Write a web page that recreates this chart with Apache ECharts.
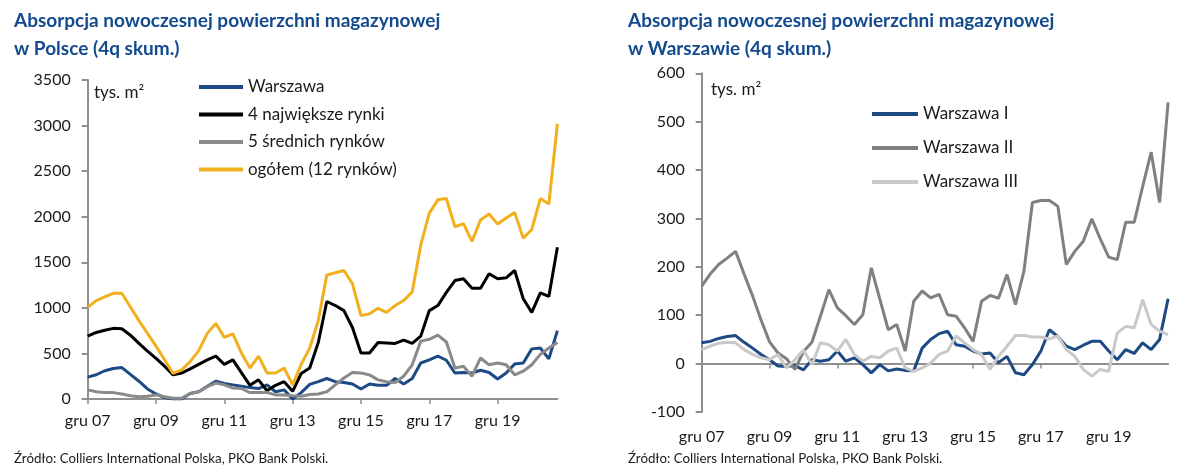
<!DOCTYPE html>
<html>
<head>
<meta charset="utf-8">
<script src="https://cdn.jsdelivr.net/npm/echarts@6/dist/echarts.min.js"></script>
<style>
html,body{margin:0;padding:0;background:#fff;}
#chart{width:1200px;height:476px;}
</style>
</head>
<body>
<div id="chart"></div>
<script>
// ---- Data ----
const categories = [
  "gru 07",
  "mar 08","cze 08","wrz 08","gru 08",
  "mar 09","cze 09","wrz 09","gru 09",
  "mar 10","cze 10","wrz 10","gru 10",
  "mar 11","cze 11","wrz 11","gru 11",
  "mar 12","cze 12","wrz 12","gru 12",
  "mar 13","cze 13","wrz 13","gru 13",
  "mar 14","cze 14","wrz 14","gru 14",
  "mar 15","cze 15","wrz 15","gru 15",
  "mar 16","cze 16","wrz 16","gru 16",
  "mar 17","cze 17","wrz 17","gru 17",
  "mar 18","cze 18","wrz 18","gru 18",
  "mar 19","cze 19","wrz 19","gru 19",
  "mar 20","cze 20","wrz 20","gru 20",
  "mar 21","cze 21","wrz 21"
];

// Left chart (tys. m2)
const warszawa = [240,266,310,335,345,270,195,110,55,15,0,0,60,80,140,195,170,155,140,125,115,155,80,100,0,70,160,190,225,190,180,165,110,165,150,150,225,165,225,395,430,470,425,285,290,285,315,290,220,285,385,395,550,560,440,750];
const top4 = [690,730,755,775,770,700,610,525,445,360,265,285,330,380,430,470,380,430,290,150,210,90,150,190,85,280,340,620,1070,1025,970,785,505,505,620,615,610,645,610,690,970,1025,1170,1300,1320,1215,1215,1375,1320,1330,1410,1100,950,1165,1125,1665];
const mid5 = [100,80,70,70,55,35,25,30,45,25,8,8,60,80,135,175,155,120,115,70,70,70,45,45,35,30,50,55,80,155,230,290,285,265,210,190,180,250,375,635,655,700,625,340,360,250,450,375,395,375,265,305,375,490,560,620];
const total12 = [1005,1080,1120,1160,1160,1010,860,720,580,430,280,320,410,530,720,830,675,715,505,340,470,285,285,340,155,380,560,860,1360,1385,1410,1265,915,935,995,950,1025,1080,1175,1690,2040,2185,2200,1890,1925,1730,1965,2030,1920,1985,2045,1765,1860,2200,2140,3020];

// Right chart (tys. m2)
const wI = [43,46,52,56,58,44,32,19,8,-5,-6,-4,-13,8,5,8,26,5,12,-2,-19,-2,-15,-11,-14,-15,32,50,62,67,39,36,26,20,22,2,15,-19,-23,-2,26,70,56,36,29,38,46,46,26,8,29,21,43,29,50,134];
const wII = [160,185,205,218,232,185,140,90,45,22,10,-12,25,44,98,153,115,99,81,101,198,134,70,81,26,129,150,136,143,101,98,74,46,129,141,135,184,122,191,333,337,337,325,205,232,253,299,258,220,215,292,292,366,437,333,540];
const wIII = [29,36,42,44,43,29,19,12,8,19,-9,8,28,-2,43,39,26,50,19,5,15,12,26,32,-9,-16,-9,1,19,26,57,43,29,19,-12,15,36,58,58,55,55,51,57,29,15,-12,-26,-12,-16,63,77,74,132,81,67,60];

const leftTicks = {min: 0, max: 3500, interval: 500};
const rightTicks = {min: -100, max: 600, interval: 100};

const titleLeft = "Absorpcja nowoczesnej powierzchni magazynowej\nw Polsce (4q skum.)";
const titleRight = "Absorpcja nowoczesnej powierzchni magazynowej\nw Warszawie (4q skum.)";
const sourceText = "Źródło: Colliers International Polska, PKO Bank Polski.";
const unitText = "tys. m²";

// ---- Styles ----
const FONT = "Lato, 'Open Sans', sans-serif";
const TXT = '#1a1a1a';
const AXIS = '#8f8f8f';
const C_BLUE = '#1d4a85';
const C_BLACK = '#000000';
const C_GRAY = '#8a8a8a';
const C_YELLOW = '#f2b01e';
const C_GRAY2 = '#808080';
const C_LIGHT = '#c9c9c9';

const chart = echarts.init(document.getElementById('chart'), null, {renderer: 'canvas'});

function yAxis(idx, t) {
  return {
    type: 'value', gridIndex: idx, min: t.min, max: t.max, interval: t.interval,
    axisLine: {show: true, lineStyle: {color: AXIS, width: 2}},
    axisTick: {show: true, length: 6, lineStyle: {color: AXIS, width: 2}},
    axisLabel: {color: TXT, fontFamily: FONT, fontSize: 16, margin: 17, formatter: v => String(v)},
    splitLine: {show: false}
  };
}

function lineSeries(name, data, color, xi, yi, width) {
  return {
    name: name, type: 'line', data: data, xAxisIndex: xi, yAxisIndex: yi,
    showSymbol: false, symbol: 'none', smooth: false,
    lineStyle: {color: color, width: width},
    itemStyle: {color: color},
    emphasis: {disabled: true},
    animation: false
  };
}

const titleStyle = {color: '#134a8e', fontFamily: FONT, fontSize: 19, fontWeight: 'bold', lineHeight: 28};

const option = {
  animation: false,
  backgroundColor: '#ffffff',
  title: [
    {text: titleLeft, left: 14, top: 7, padding: 0, textStyle: titleStyle},
    {text: titleRight, left: 628, top: 7, padding: 0, textStyle: titleStyle}
  ],
  legend: [
    {data: ['Warszawa', '4 największe rynki', '5 średnich rynków', 'ogółem (12 rynków)'],
     orient: 'vertical', left: 199, top: 77, padding: 0, itemWidth: 44, itemHeight: 4, itemGap: 7.5,
     icon: 'rect', selectedMode: false,
     textStyle: {color: TXT, fontFamily: FONT, fontSize: 17, lineHeight: 20}},
    {data: ['Warszawa I', 'Warszawa II', 'Warszawa III'],
     orient: 'vertical', left: 872, top: 104, padding: 0, itemWidth: 46, itemHeight: 4, itemGap: 14,
     icon: 'rect', selectedMode: false,
     textStyle: {color: TXT, fontFamily: FONT, fontSize: 17, lineHeight: 20}}
  ],
  grid: [
    {left: 87.7, top: 80, width: 469.7, height: 319, containLabel: false},
    {left: 701.7, top: 73.3, width: 466.4, height: 338.7, containLabel: false}
  ],
  xAxis: [
    {type: 'category', gridIndex: 0, data: categories, boundaryGap: false,
     axisLine: {show: true, onZero: true, lineStyle: {color: AXIS, width: 2}},
     axisTick: {show: true, interval: 7, length: 5, lineStyle: {color: AXIS, width: 1.5}},
     axisLabel: {interval: 7, color: TXT, fontFamily: FONT, fontSize: 16, margin: 14},
     splitLine: {show: false}},
    {type: 'category', gridIndex: 1, data: categories, boundaryGap: false, position: 'bottom',
     axisLine: {show: true, onZero: true, lineStyle: {color: AXIS, width: 2}},
     axisTick: {show: true, interval: 7, length: 5, lineStyle: {color: AXIS, width: 1.5}},
     axisLabel: {show: false},
     splitLine: {show: false}},
    {type: 'category', gridIndex: 1, data: categories, boundaryGap: false, position: 'bottom',
     axisLine: {show: false, onZero: false},
     axisTick: {show: false},
     axisLabel: {interval: 7, color: TXT, fontFamily: FONT, fontSize: 16, margin: 17},
     splitLine: {show: false}}
  ],
  yAxis: [yAxis(0, leftTicks), yAxis(1, rightTicks)],
  graphic: [
    {type: 'text', left: 94, top: 84, style: {text: unitText, fill: TXT, font: "17px Lato, sans-serif"}},
    {type: 'text', left: 711, top: 81, style: {text: unitText, fill: TXT, font: "17px Lato, sans-serif"}},
    {type: 'text', left: 14, top: 452, style: {text: sourceText, fill: TXT, font: "13.3px Lato, sans-serif"}},
    {type: 'text', left: 628, top: 452, style: {text: sourceText, fill: TXT, font: "13.3px Lato, sans-serif"}}
  ],
  series: [
    lineSeries('Warszawa', warszawa, C_BLUE, 0, 0, 3),
    lineSeries('4 największe rynki', top4, C_BLACK, 0, 0, 3),
    lineSeries('5 średnich rynków', mid5, C_GRAY, 0, 0, 3),
    lineSeries('ogółem (12 rynków)', total12, C_YELLOW, 0, 0, 3),
    lineSeries('Warszawa I', wI, C_BLUE, 1, 1, 3),
    lineSeries('Warszawa II', wII, C_GRAY2, 1, 1, 3),
    lineSeries('Warszawa III', wIII, C_LIGHT, 1, 1, 3)
  ]
};
chart.setOption(option);
</script>
</body>
</html>
